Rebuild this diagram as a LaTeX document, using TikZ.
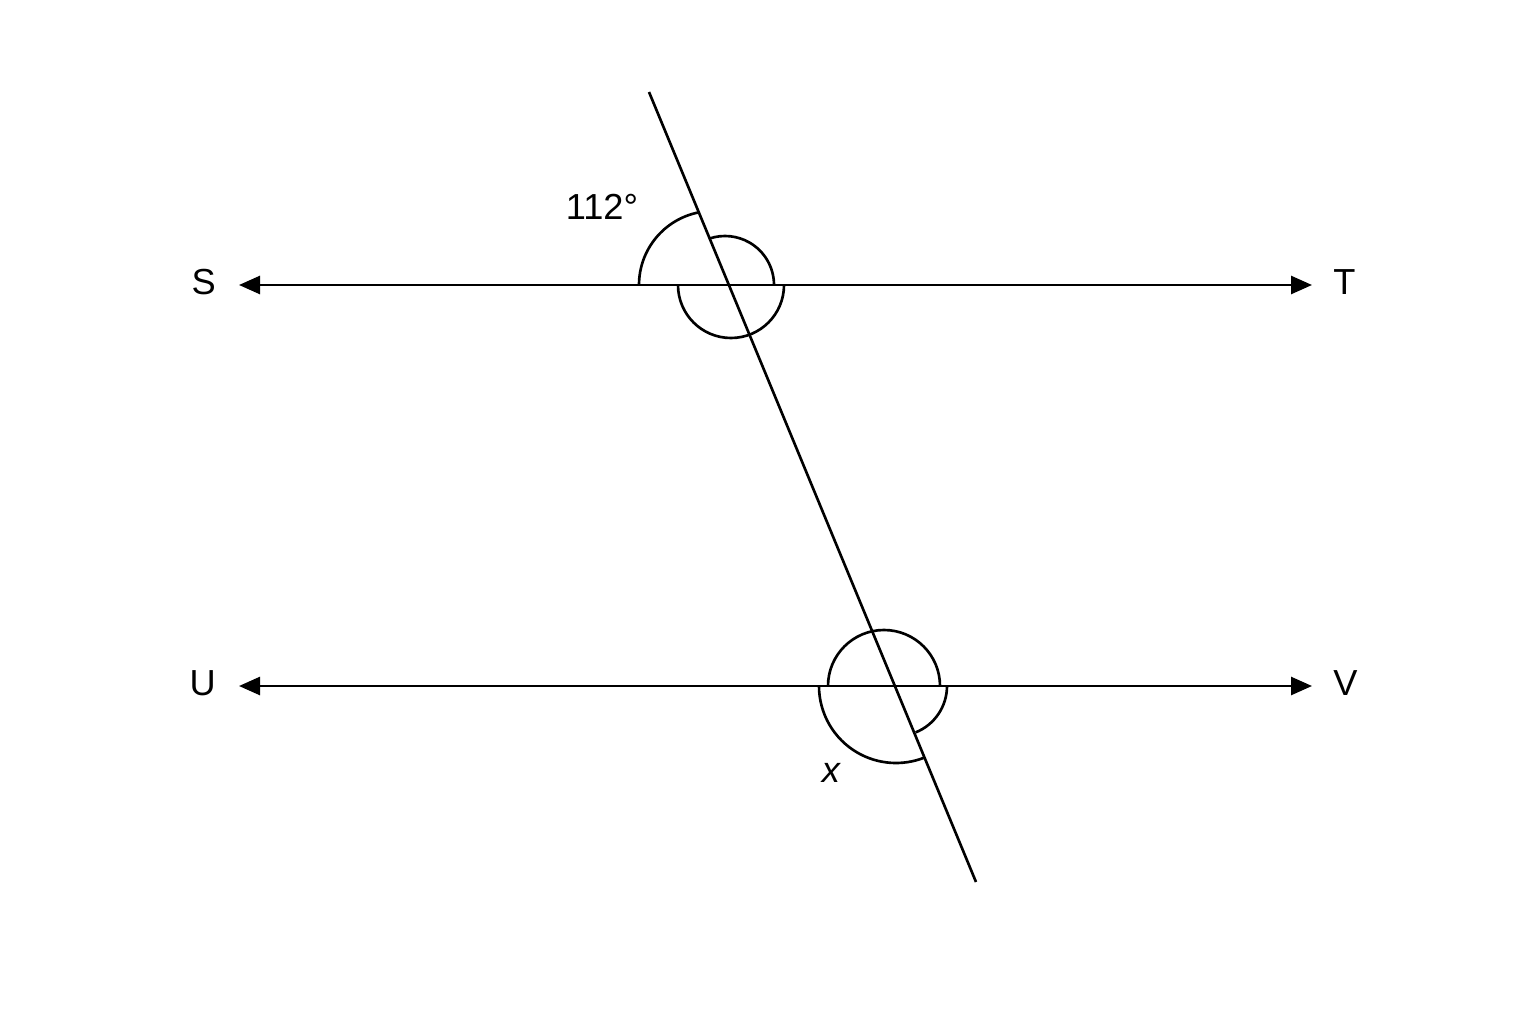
\documentclass[tikz,border=0pt]{standalone}
\usepackage{fontspec}
\setmainfont{Liberation Sans}
\usetikzlibrary{arrows.meta,positioning}

\begin{document}
\begin{tikzpicture}[line width=0.75pt, >={Triangle[length=0.21cm,width=0.18cm]},
	pt/.style={inner sep=0pt,font=\fontsize{10.3}{12}\selectfont}]
	\useasboundingbox (0,0) rectangle (15.36,10.24);
	\coordinate (s) at (2.39,7.39);
	\coordinate (t) at (13.12,7.39);
	\coordinate (u) at (2.39,3.38);
	\coordinate (v) at (13.12,3.38);
	\draw[<->] (s) -- (t);
	\draw[<->] (u) -- (v);
	\node[pt,left=0.22cm of s,yshift=0.025cm] (S) {S};
	\node[pt,right=0.2cm of t,yshift=0.025cm] (T) {T};
	\node[pt,left=0.22cm of u,yshift=0.025cm] (U) {U};
	\node[pt,right=0.2cm of v,yshift=0.025cm] (V) {V};

	\coordinate (a) at (6.49,9.32);
	\coordinate (b) at (9.76,1.42);
	\draw (a) -- (b);
	% x = 6.49 + 0.4139*(9.32-y). y=7.39: x=7.29. y=3.38: x=8.95
	\coordinate (P) at (7.29,7.39);
	\coordinate (Q) at (8.95,3.38);

	\draw ([xshift=-0.90cm]P) arc[start angle=180,end angle=101,radius=0.74];
	\draw ([xshift=0.45cm]P) arc[start angle=0,end angle=108,radius=0.49];
	\draw ([xshift=-0.51cm]P) arc[start angle=180,end angle=360,radius=0.53];

	\draw ([xshift=-0.67cm]Q) arc[start angle=180,end angle=0,radius=0.56];
	\draw ([xshift=0.52cm]Q) arc[start angle=0,end angle=-68,radius=0.50];
	\draw ([xshift=-0.76cm]Q) arc[start angle=180,end angle=291,radius=0.77];

	\node[pt] (ang) at (6.02,8.17) {112°};
	\node[pt] (x) at (8.31,2.51) {\itshape x};
\end{tikzpicture}
\end{document}
